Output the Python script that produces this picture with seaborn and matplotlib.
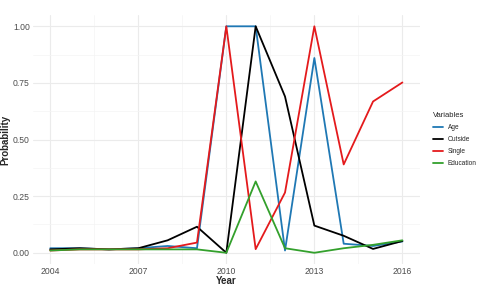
import pandas as pd
import matplotlib
matplotlib.use("Agg")
import matplotlib.pyplot as plt
import seaborn as sns

# --- DATA ---
years = [2004, 2005, 2006, 2007, 2008, 2009, 2010, 2011, 2012, 2013, 2014, 2015, 2016]
age = [0.02, 0.02, 0.015, 0.02, 0.03, 0.02, 1.0, 1.0, 0.01, 0.86, 0.04, 0.03, 0.05]
outside = [0.015, 0.02, 0.015, 0.02, 0.055, 0.115, 0.0, 1.0, 0.69, 0.12, 0.075, 0.017, 0.052]
single = [0.01, 0.015, 0.015, 0.015, 0.02, 0.045, 1.0, 0.016, 0.266, 1.0, 0.39, 0.668, 0.752]
education = [0.01, 0.015, 0.015, 0.015, 0.015, 0.015, 0.0, 0.315, 0.02, 0.0, 0.02, 0.035, 0.055]

variables = ["Age", "Outside", "Single", "Education"]
colors = ["#1f78b4", "#000000", "#e41a1c", "#33a02c"]

df = pd.concat([
    pd.DataFrame({"Year": years, "Probability": vals, "Variables": name})
    for name, vals in zip(variables, [age, outside, single, education])
])

sns.set_theme(style="white")
plt.rcParams["font.family"] = ["Liberation Sans", "DejaVu Sans"]

fig = plt.figure(figsize=(4.8, 2.88), dpi=100)
ax = fig.add_axes([0.068, 0.083, 0.807, 0.865])

sns.lineplot(data=df, x="Year", y="Probability", hue="Variables",
             hue_order=variables, palette=colors, linewidth=1.3, ax=ax)

# ggplot-like minimal grid
ax.set_xlim(2003.4, 2016.6)
ax.set_ylim(-0.05, 1.05)
ax.set_xticks([2004, 2007, 2010, 2013, 2016])
ax.set_xticks([2005.5, 2008.5, 2011.5, 2014.5], minor=True)
ax.set_yticks([0, 0.25, 0.5, 0.75, 1.0])
ax.set_yticks([0.125, 0.375, 0.625, 0.875], minor=True)
ax.set_yticklabels(["0.00", "0.25", "0.50", "0.75", "1.00"])
ax.grid(which="major", color="#ebebeb", linewidth=0.8)
ax.grid(which="minor", color="#f4f4f4", linewidth=0.5)
ax.set_axisbelow(True)
for s in ax.spines.values():
    s.set_visible(False)
ax.tick_params(which="both", length=0, labelsize=6.2, labelcolor="#4d4d4d", pad=2)
ax.set_xlabel("Year", fontsize=7, fontweight="bold", labelpad=0)
ax.set_ylabel("Probability", fontsize=7, fontweight="bold", labelpad=2)

handles, labels = ax.get_legend_handles_labels()
ax.get_legend().remove()
leg = fig.legend(handles, labels, title="Variables", loc="center left",
                 bbox_to_anchor=(0.895, 0.515), frameon=False, fontsize=4.7,
                 title_fontsize=5.5, handlelength=1.5, handletextpad=0.8,
                 borderpad=0, labelspacing=0.75)
leg._legend_box.align = "left"

fig.savefig("out.png", dpi=100)
